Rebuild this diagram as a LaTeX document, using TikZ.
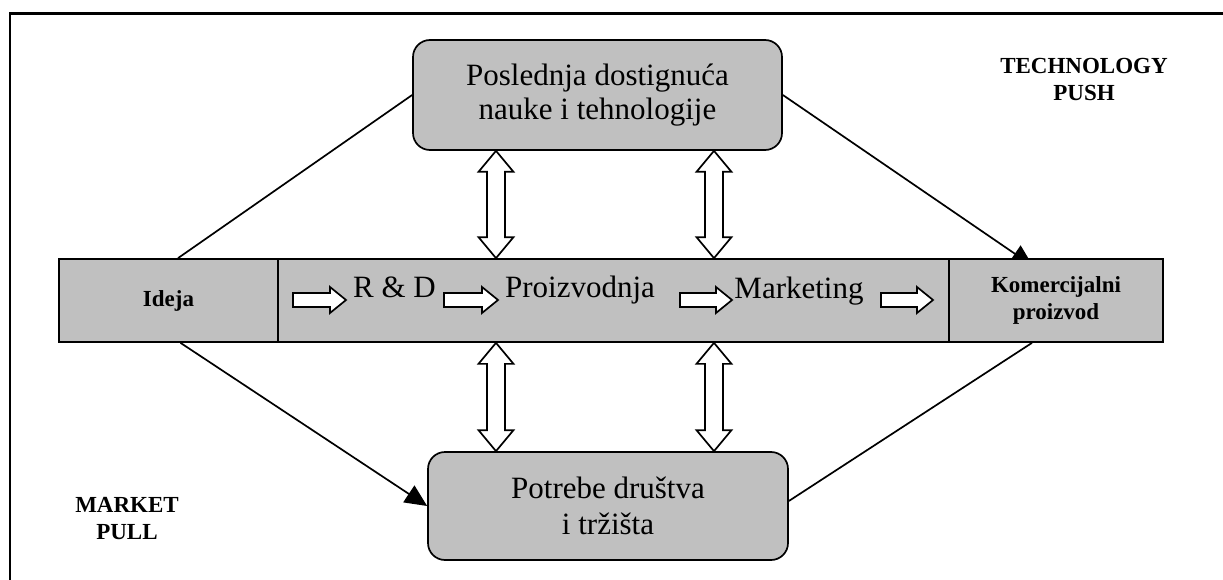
\documentclass[tikz,border=0pt]{standalone}
\usepackage{fontspec}
\setmainfont{Liberation Serif}
\usetikzlibrary{arrows.meta,calc,backgrounds}
\definecolor{boxgray}{HTML}{C0C0C0}
\tikzset{
  panel/.style={draw=black, line width=1.7pt, fill=boxgray, rounded corners=17pt,
    inner sep=0pt, align=center, font=\fontsize{31}{34}\selectfont},
  cell/.style={draw=black, line width=1.7pt, fill=boxgray, inner sep=0pt,
    minimum height=83pt, align=center},
  stage/.style={font=\fontsize{31}{34}\selectfont, inner sep=0pt, anchor=base},
  tag/.style={font=\bfseries\fontsize{23}{27}\selectfont, align=center, inner sep=0pt},
  link/.style={line width=1.7pt},
  linkarrow/.style={line width=1.7pt, -{Triangle[length=22pt,width=20pt]}},
  hollow/.style={draw=black, fill=white, line width=1.7pt, line join=miter},
}
% hollow two-headed block arrow between two points on one vertical
\newcommand{\vdouble}[2]{%
  \draw[hollow] let \p1=(#1), \p2=(#2) in
    (\x1,\y1) -- ({\x1+17.5pt},{\y1-21pt}) -- ({\x1+9pt},{\y1-21pt})
    -- ({\x1+9pt},{\y2+21pt}) -- ({\x1+17.5pt},{\y2+21pt}) -- (\x1,\y2)
    -- ({\x1-17.5pt},{\y2+21pt}) -- ({\x1-9pt},{\y2+21pt})
    -- ({\x1-9pt},{\y1-21pt}) -- ({\x1-17.5pt},{\y1-21pt}) -- cycle;}
% hollow block arrow pointing right
\newcommand{\hblock}[2]{%
  \draw[hollow] let \p1=(#1), \p2=(#2) in
    (\x1,{\y1+7pt}) -- ({\x2-16pt},{\y1+7pt}) -- ({\x2-16pt},{\y1+13pt})
    -- (\x2,\y1) -- ({\x2-16pt},{\y1-13pt}) -- ({\x2-16pt},{\y1-7pt})
    -- (\x1,{\y1-7pt}) -- cycle;}
\begin{document}
\begin{tikzpicture}[x=1pt,y=-1pt]
\useasboundingbox (0,0) rectangle (1223,580);

% outer frame
\draw[line width=2.7pt] (10,580) -- (10,13.3) -- (1223,13.3);

% boxes
\node[panel, minimum width=369pt, minimum height=110pt] (top) at (597.5,95)
  {Poslednja dostignuća\\nauke i tehnologije};
\node[panel, minimum width=360pt, minimum height=108pt,
  font=\fontsize{31}{36}\selectfont] (bottom) at (608,506)
  {Potrebe društva\\i tržišta};

% process bar
\node[cell, minimum width=219pt, font=\bfseries\fontsize{23}{27}\selectfont]
  (ideja) at (168.5,300.5) {Ideja};
\node[cell, minimum width=671pt] (mid) at (613.5,300.5) {};
\node[cell, minimum width=214pt, font=\bfseries\fontsize{23}{27}\selectfont]
  (kom) at (1056,300.5) {Komercijalni\\proizvod};

\node[stage] (rd) at (394.5,297) {R \& D};
\node[stage] (proiz) at (580,297) {Proizvodnja};
\node[stage] (mkt) at (799,298) {Marketing};

% corner labels
\node[tag] (tp) at (1084,79.5) {TECHNOLOGY\\PUSH};
\node[tag] (mp) at (127,519) {MARKET\\PULL};

% arrows inside the bar
\coordinate (h1s) at (293,300); \coordinate (h1e) at (346,300);
\coordinate (h2s) at (444,300); \coordinate (h2e) at (498,300);
\coordinate (h3s) at (680,300); \coordinate (h3e) at (732,300);
\coordinate (h4s) at (881,300); \coordinate (h4e) at (933,300);
\hblock{h1s}{h1e}
\hblock{h2s}{h2e}
\hblock{h3s}{h3e}
\hblock{h4s}{h4e}

% exchange arrows between the bar and the boxes
\coordinate (ca) at (496,0);
\coordinate (cb) at (714,0);
\vdouble{top.south -| ca}{mid.north -| ca}
\vdouble{top.south -| cb}{mid.north -| cb}
\vdouble{mid.south -| ca}{bottom.north -| ca}
\vdouble{mid.south -| cb}{bottom.north -| cb}

% push and pull paths
\coordinate (ktip) at ([xshift=-23pt,yshift=-8pt]kom.north);
\begin{scope}[on background layer]
  \fill[white] (0,0) rectangle (1223,580);
  \draw[link] (top.west) -- ([xshift=9.5pt]ideja.north);
  \draw[linkarrow] (top.east) -- (ktip);
  \draw[linkarrow] ([xshift=12pt]ideja.south) -- (bottom.west);
  \draw[link] ([yshift=5pt]bottom.east) -- ([xshift=-24pt]kom.south);
\end{scope}
\end{tikzpicture}
\end{document}
